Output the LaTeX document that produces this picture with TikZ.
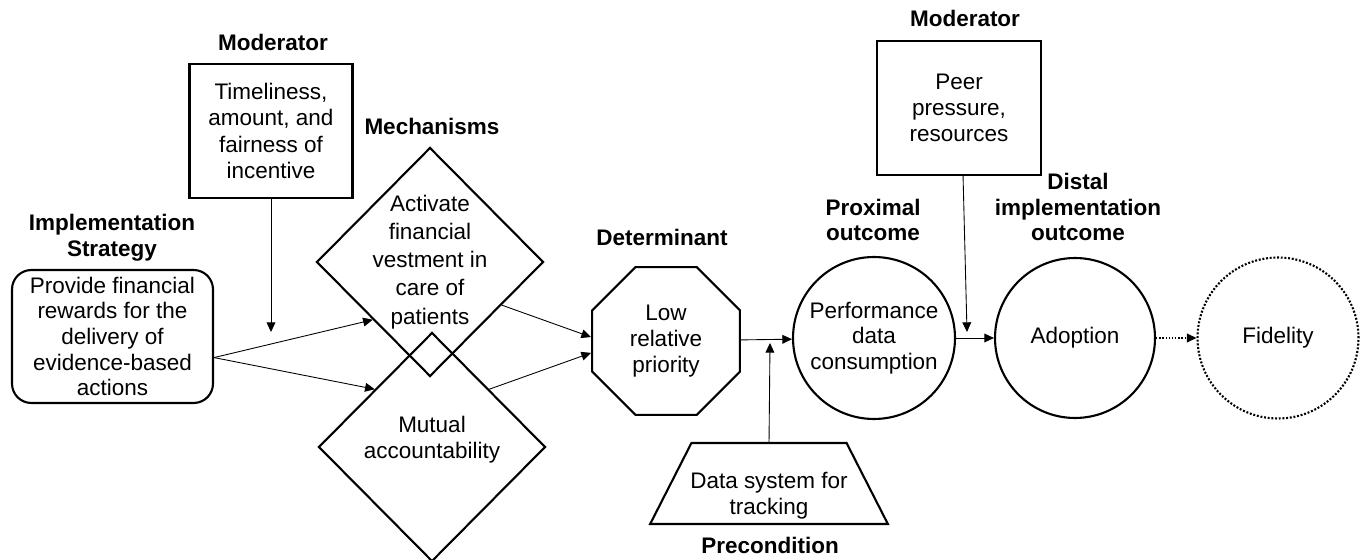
\documentclass[tikz,border=0pt]{standalone}
\usepackage{fontspec}
\setmainfont{Liberation Sans}
\usepackage{tikz}
\usetikzlibrary{
  positioning,
  arrows.meta,
  shapes.geometric
}

\begin{document}
\begin{tikzpicture}[
  x=0.02cm, y=-0.02cm,
  txt/.style={font=\fontsize{12.8}{14.6}\selectfont, align=center},
  lbl/.style={font=\fontsize{12.8}{14.6}\selectfont\bfseries, align=center},
  shp/.style={draw, line width=1.2pt, txt, inner sep=0pt},
  mech/.style={shp, diamond, inner sep=-5pt, minimum width=4.54cm, minimum height=4.58cm},
  arr/.style={-{Triangle[length=5.5pt,width=5pt]}, line width=0.5pt}
]
  \useasboundingbox (0,0) rectangle (1361,560);

  % Strategy and first moderator
  \node[shp, rounded corners=11pt, minimum width=4.02cm, minimum height=2.66cm]
    (strategy) at (112.5,336.5) {Provide financial\\rewards for the\\delivery of\\evidence-based\\actions};
  \node[lbl] (lblstrat) at (112,238) {Implementation\\Strategy};

  \node[shp, rectangle, minimum width=3.26cm, minimum height=2.68cm,
        font=\fontsize{12.8}{15}\selectfont]
    (mod1) at (271,131) {Timeliness,\\amount, and\\fairness of\\incentive};
  \node[lbl] (lblmod1) at (273,42) {Moderator};

  % Mechanisms
  \node[mech, font=\fontsize{12.8}{16}\selectfont]
    (mech1) at (430,262) {Activate\\financial\\vestment in\\care of\\patients};
  \node[mech] (mech2) at (432,447) {Mutual\\accountability\rule[-11pt]{0pt}{11pt}};
  \node[lbl] (lblmech) at (432,126) {Mechanisms};

  % Determinant and precondition
  \node[shp, regular polygon, regular polygon sides=8, minimum size=3.2cm]
    (det) at (666,341) {Low\\relative\\priority};
  \node[lbl] (lbldet) at (662,237) {Determinant};

  \node[shp, trapezium, trapezium stretches=true, trapezium left angle=57,
        trapezium right angle=57, inner sep=-3pt, minimum width=4.76cm, minimum height=1.62cm]
    (pre) at (769,483.5) {\rule{0pt}{23pt}Data system for\\tracking};
  \node[lbl] (lblpre) at (770,545) {Precondition};

  % Outcomes
  \node[shp, circle, minimum size=3.24cm] (prox) at (874,338) {Performance\\data\\consumption};
  \node[lbl] (lblprox) at (873,220) {Proximal\\outcome};

  \node[shp, rectangle, minimum width=3.28cm, minimum height=2.68cm]
    (mod2) at (959,108) {Peer\\pressure,\\resources};
  \node[lbl] (lblmod2) at (965,18) {Moderator};

  \node[shp, circle, minimum size=3.2cm] (adopt) at (1075,338) {Adoption};
  \node[lbl] (lbldist) at (1078,207) {Distal\\implementation\\outcome};

  \node[shp, circle, minimum size=3.22cm, dash pattern=on 1.1pt off 1pt]
    (fid) at (1278,338) {Fidelity};

  % connectors
  \coordinate (m1tip) at (271,332);
  \coordinate (pretip) at (770,343);
  \coordinate (m2tip) at (967,332);

  \draw[arr] ([yshift=-12pt]strategy.east) -- (mech1.south west);
  \draw[arr] ([yshift=-12pt]strategy.east) -- (mech2.north west);
  \draw[arr] (mod1.south) -- (m1tip);
  \draw[arr] (mech1.-31) -- (det.177);
  \draw[arr] (mech2.north east) -- (det.189);
  \draw[arr] (det) -- (prox);
  \draw[arr] (pre.north) -- (pretip);
  \draw[arr] (prox) -- (adopt);
  \draw[arr] ([xshift=2.3pt]mod2.south) -- (m2tip);
  \draw[arr, line width=0.8pt, densely dotted] (adopt) -- (fid);
\end{tikzpicture}
\end{document}
